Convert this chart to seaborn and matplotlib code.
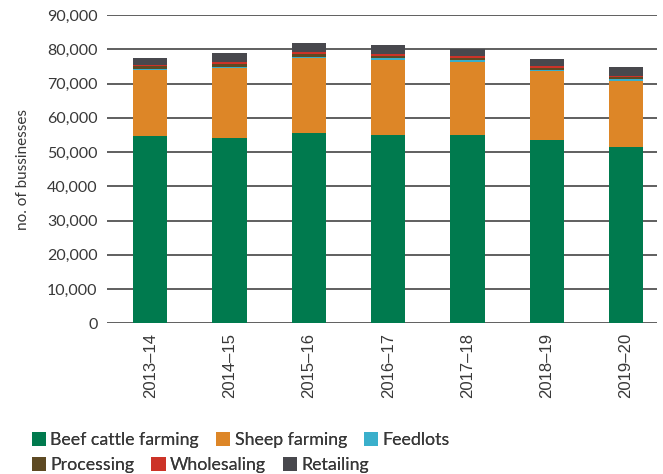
import pandas as pd
import numpy as np
import matplotlib
matplotlib.use('Agg')
import matplotlib.pyplot as plt
import seaborn as sns
from matplotlib.patches import Patch

years = ['2013–14', '2014–15', '2015–16', '2016–17', '2017–18', '2018–19', '2019–20']
beef_cattle = [54700, 54100, 55500, 55000, 55000, 53500, 51400]
sheep = [19300, 20400, 21900, 22000, 21400, 20100, 19300]
feedlots = [300, 300, 300, 500, 600, 500, 600]
processing = [800, 1000, 900, 500, 500, 400, 600]
wholesaling = [400, 500, 600, 600, 600, 600, 300]
retailing = [1900, 2600, 2600, 2600, 2000, 2000, 2600]

series = ['Beef cattle farming', 'Sheep farming', 'Feedlots', 'Processing', 'Wholesaling', 'Retailing']
colors = ['#007a4e', '#dd8627', '#3aafcb', '#5e4a23', '#cc3328', '#48484d']

sns.set_theme(style='white')
plt.rcParams['font.family'] = ['Lato', 'DejaVu Sans']
text_col = '#383838'

df = pd.DataFrame({'year': years, 'Beef cattle farming': beef_cattle, 'Sheep farming': sheep,
                   'Feedlots': feedlots, 'Processing': processing, 'Wholesaling': wholesaling,
                   'Retailing': retailing})
cum = df[series].cumsum(axis=1)

fig, ax = plt.subplots(figsize=(6.63, 4.74), dpi=100)
fig.subplots_adjust(left=0.162, right=0.991, top=0.968, bottom=0.318)

# draw tallest (cumulative) first so each lower layer sits on top
for name, col in reversed(list(zip(series, colors))):
    sns.barplot(x=df['year'], y=cum[name], color=col, width=0.43, ax=ax,
                saturation=1, edgecolor='none', linewidth=0, zorder=3)

ax.set_ylim(0, 90000)
ax.set_xlim(-0.54, 6.39)
ax.set_yticks(np.arange(0, 90001, 10000))
ax.yaxis.set_major_formatter(matplotlib.ticker.FuncFormatter(lambda v, p: f'{int(v):,}'))
ax.grid(axis='y', color='#444444', linewidth=1.2, zorder=0)
for s in ax.spines.values():
    s.set_visible(False)
ax.tick_params(axis='y', labelsize=11.5, colors=text_col, length=0, pad=7)
ax.tick_params(axis='x', labelsize=12, colors=text_col, length=0, rotation=90, pad=7)
for t in ax.get_xticklabels():
    t.set_family('Liberation Sans')
ax.set_xlabel('')
ax.set_ylabel('no. of bussinesses', fontsize=11, color=text_col, labelpad=12)

# legend flows in two rows, not aligned columns -> one legend per row
for row, yc in [(series[:3], 0.0717), (series[3:], 0.019)]:
    h = [Patch(facecolor=colors[series.index(s)], edgecolor='none') for s in row]
    leg = fig.legend(h, row, loc='center left', bbox_to_anchor=(0.048, yc), ncol=3,
                     frameon=False, fontsize=12.8, labelcolor=text_col,
                     handlelength=0.8, handleheight=0.8, handletextpad=0.25,
                     columnspacing=0.95, borderpad=0, borderaxespad=0)
    fig.add_artist(leg)

fig.savefig('out.png', dpi=100)
